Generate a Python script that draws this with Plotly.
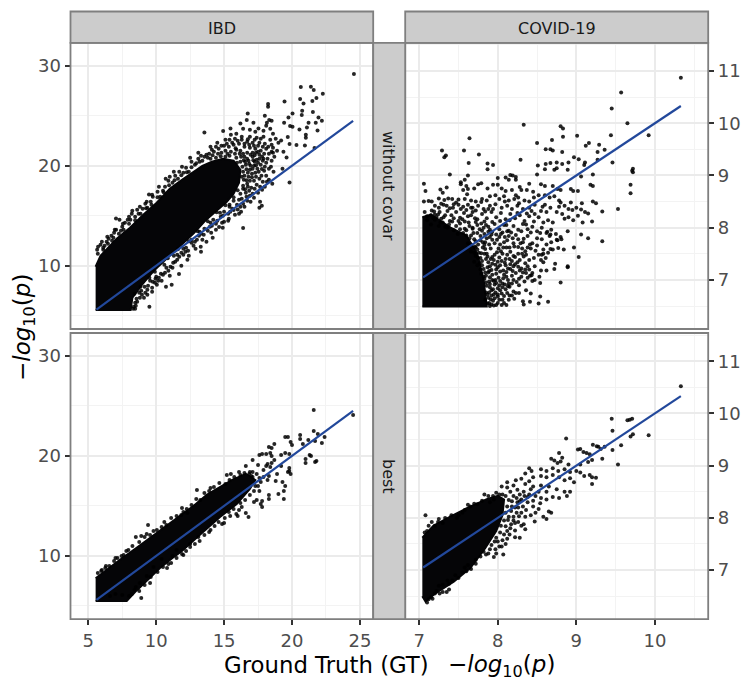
import plotly.graph_objects as go

# Values. Where points merge into solid black, single points
# cannot be read, so those areas are given as an outline of the saturated region.
line_ibd_x = [5.6, 24.5]
line_ibd_y = [5.6, 24.5]
line_cov_x = [7.05, 10.33]
line_cov_y = [7.05, 10.33]

tl_core = [(5.54,5.57),(8.12,5.57),(8.25,6.8),(8.9,8.0),(9.9,9.6),(10.9,10.9),(11.9,12.1),(12.8,13.3),(13.6,14.5),(14.5,15.6),(15.2,16.4),(15.7,17.2),(16.1,18.3),(16.2,19.6),(15.7,20.5),(14.9,20.7),(14.1,20.4),(13.4,20.0),(12.6,19.3),(11.9,18.6),(11.0,17.7),(10.04,16.3),(9.05,15.1),(8.07,13.8),(7.09,12.7),(5.9,11.0),(5.54,9.9)]
tl_points = [(24.56,29.17),(20.65,27.87),(21.39,27.9),(21.6,27.57),(22.27,27.2),(21.8,26.77),(21.5,26.47),(20.6,26.67),(20.85,26.23),(19.45,26.43),(18.24,26.17),(18.24,25.9),(16.74,25.23),(20.75,25.5),(21.54,25.37),(20.72,25.07),(20.04,25.23),(19.74,24.83),(21.95,24.83),(22.2,24.5),(21.75,24.3),(21.22,24.3),(21.1,23.83),(20.55,23.63),(21.88,23.53),(19.86,23.97),(19.42,24.3),(20.04,23.9),(18.32,24.57),(18.15,24.3),(18.5,24.5),(18.0,25.0),(13.55,23.33),(14.93,23.47),(15.47,23.73),(16.67,24.57),(16.2,24.23),(17.16,24.3),(17.53,23.73),(21.02,23.1),(21.02,22.8),(20.33,22.07),(20.95,22.03),(21.66,21.77),(19.82,22.17),(19.69,22.87),(19.2,22.53),(19.37,21.4),(19.6,20.83),(19.3,19.7),(18.64,19.4),(19.82,18.33),(17.78,19.67),(17.78,16.0),(17.65,16.4),(16.4,13.77),(15.7,15.57),(16.0,15.63),(14.16,12.8),(14.63,13.87),(9.5,5.9),(11.14,8.1),(10.72,7.9),(11.68,9.17),(9.91,8.3),(13.28,11.9),(7.04,14.73),(8.24,15.5),(9.47,17.13),(11.0,18.9),
(18.1,24.0),(18.4,23.7),(18.6,23.2),(17.9,23.5),(17.3,23.4),(16.9,23.6),(16.4,23.7),(15.9,23.2),(15.5,23.1),(15.4,22.6),(15.8,22.7),(16.3,22.9),(16.9,22.9),(17.4,22.8),(17.9,22.9),(18.4,22.6),(18.8,22.7),(19.0,22.3),(18.5,22.1),(18.0,22.2),(17.6,22.3),(17.1,22.3),(16.7,22.4),(16.1,22.2),(15.7,22.1),(15.2,22.2),(14.8,22.0),(14.4,21.9),(14.1,21.6),(13.7,21.1),(13.3,21.0),(13.1,20.7),(12.6,20.4),(12.2,19.8),(11.7,19.4),(18.9,21.5),(18.5,21.4),(18.1,21.7),(17.7,21.5),(17.3,21.7),(16.9,21.8),(16.5,21.9),(16.2,21.5),(15.9,21.6),(15.5,21.4),(15.1,21.5),(14.8,21.3),(18.7,20.9),(18.2,20.7),(17.8,20.9),(17.4,20.6),(17.1,20.9),(16.8,20.5),(16.5,20.9),(16.2,20.4),(15.9,20.8),(17.7,20.1),(17.2,20.0),(16.9,19.6),(16.6,20.1),(16.4,19.4),(17.3,19.3),(16.8,18.9),(18.1,19.0),(17.6,18.7),(17.2,18.5),(16.7,18.2),(16.4,18.0),(17.0,17.8),(16.2,17.2),(16.6,17.3),(16.9,17.0),(16.1,16.6),(15.7,16.5),(16.4,16.2),(15.4,15.9),(15.3,15.2),(14.9,15.0),(14.5,14.5),(14.1,14.0),(13.8,13.5),(13.3,13.2),(13.0,12.6),(12.6,12.3),(12.2,11.8),(12.0,11.1),(11.7,10.9),(11.4,10.4),(11.2,9.8),(10.9,9.5),(10.5,9.1),(10.2,8.8),(10.0,8.9),(9.7,7.8),(9.4,8.0),(9.2,7.3),(8.9,7.5),(8.8,6.8),(8.6,6.4),(8.5,6.0),(10.4,8.5),(11.0,9.0),(12.4,11.0),(12.9,11.7),(13.4,12.6),(7.3,14.6),(8.2,15.2),(8.8,15.9),(9.2,16.2),(9.6,16.4),(10.1,17.4),(10.5,17.5),(10.9,18.5),(11.4,19.0),(6.0,12.4),(6.2,12.0),(6.5,12.7),(6.9,13.3),(7.5,13.9),(7.7,14.3),(5.7,11.2),(6.7,13.0),
(5.72,11.9),(6.1,11.8),(6.35,12.4),(6.75,12.5),(7.05,13.6),(7.4,13.5),(7.9,14.6),(8.1,14.6),(8.45,14.9),(8.7,15.2),(9.0,15.7),(9.35,15.8),(9.75,16.9),(10.3,16.9),(10.65,17.9),(11.2,18.3),(11.6,18.7),(12.0,19.3),(12.4,19.4),(12.85,20.1),(13.2,20.4),(13.55,20.9),(13.9,21.2),(14.25,21.4),(14.6,21.7),(15.0,22.0),(15.35,21.9),(15.6,22.3),(16.0,22.5),(16.5,22.2),(16.85,22.1),(17.2,22.0),(17.5,22.0),(17.85,21.9),(18.25,21.9),(18.6,21.8),(18.3,21.2),(17.95,21.2),(17.6,21.1),(17.35,21.3),(18.5,20.5),(18.1,20.3),(17.85,20.5),(17.5,20.3),(18.3,19.7),(17.95,19.5),(17.55,19.4),(17.35,18.9),(17.85,18.4),(17.4,18.1),(17.25,17.7),(16.85,17.5),(16.65,16.9),(16.3,16.7),(16.7,16.5),(15.95,16.1),(16.2,15.9),(15.6,15.7),(15.45,15.4),(15.0,15.4),(14.75,14.9),(14.85,14.3),(14.4,14.2),(14.2,14.6),(13.95,13.9),(13.55,13.7),(13.5,13.1),(13.15,13.0),(12.85,12.4),(12.75,12.0),(12.35,11.5),(12.15,11.4),(11.85,11.3),(11.55,11.1),(11.55,10.6),(11.25,10.3),(11.05,9.9),(10.75,9.8),(10.65,9.3),(10.35,9.2),(10.15,8.5),(9.95,8.7),(9.75,8.4),(9.55,8.5),(9.35,7.6),(9.15,7.9),(8.95,7.1),(8.75,7.3),(8.55,6.7),(8.45,6.3),(8.35,5.9),(8.3,5.7),(8.45,5.7),(9.1,6.8),(9.35,7.1),(9.7,7.4),(10.05,8.1),(12.3,10.6),(11.85,10.0),(13.3,11.4),(13.7,12.4),(14.05,13.3),(14.4,13.6),(15.0,14.4),(15.35,14.7),(15.8,15.1),(16.25,15.4),(16.1,15.2),(16.5,15.9),(16.95,16.4),(17.2,16.8),(17.5,17.3),(17.1,17.2),(17.8,17.6),(18.0,17.9),(18.3,18.6),(18.55,18.2),(17.6,15.8),(15.3,14.5),(14.9,13.8),
(16.4,17.7),(16.75,17.9),(16.9,18.5),(16.45,18.6),(16.5,19.0),(16.75,19.3),(17.05,19.2),(17.45,19.7),(17.1,19.7),(16.35,19.9),(16.55,20.4),(16.85,20.2),(17.25,20.4),(15.95,20.3),(16.25,20.9),(16.7,21.3),(17.1,21.3),(16.4,21.2),(15.8,21.2),(15.4,21.0),(15.1,20.9),(14.75,20.95),(14.4,20.8),(14.0,20.7),(17.5,21.4),(17.9,20.7),(17.6,20.7),(18.0,19.9),(18.45,19.9),(18.15,18.4),(17.65,17.9),(17.75,19.0),(18.6,21.3),(16.3,22.6),(16.75,22.65),(17.25,22.6),(17.7,22.7),(15.1,22.6),(14.5,22.3),(14.0,21.9),(13.1,21.3),(12.5,20.8),(11.9,19.9),(11.3,19.4),(10.7,18.7),(10.2,17.9),(9.7,17.1),(9.3,16.4),(8.6,15.6),(8.0,14.9),(7.55,14.2),(6.95,13.6),(6.4,12.9),(5.9,12.1),(5.65,11.6),(9.9,9.4),(10.6,10.1),(11.3,11.0),(12.0,11.7),(12.6,12.6),(13.2,13.4),(14.0,14.3),(14.7,15.3),(15.4,16.1),(8.85,7.9),(9.5,8.8),(8.4,7.2),
(16.3,18.9),(16.65,19.65),(16.95,20.0),(16.7,20.7),(16.45,20.55),(16.15,21.2),(16.95,21.1),(17.25,21.05),(17.15,20.55),(17.35,20.05),(17.05,18.85),(16.65,18.55),(16.55,17.65),(15.85,21.75),(15.25,21.2),(14.55,21.2),(14.15,21.05),(13.8,20.8),(13.4,20.5),(12.95,20.25),(12.6,19.85),(12.25,19.35),(11.85,19.05),(11.35,18.55),(10.95,18.05),(10.55,17.35),(10.1,16.85),(9.65,16.1),(9.25,15.75),(8.85,15.2),(8.45,14.55),(8.0,14.2),(7.6,13.6),(7.25,13.2),(6.85,12.8),(6.45,12.2),(6.1,11.6),(15.7,16.85),(16.0,17.55),(15.1,16.05),(14.45,15.35),(13.8,14.45),(13.05,13.45),(12.4,12.45),(11.6,11.65),(10.85,10.75)]

tr_core = [(7.04,6.49),(7.86,6.49),(7.82,7.0),(7.74,7.5),(7.6,7.85),(7.4,8.0),(7.15,8.25),(7.04,8.2)]
tr_points = [(10.33,10.87),(9.57,10.59),(9.45,10.28),(9.65,10.0),(9.92,9.77),(9.44,9.77),(8.33,9.97),(8.80,9.94),(8.83,9.90),(8.83,9.74),(9.01,9.76),(8.69,9.68),(8.50,9.62),(9.16,9.62),(9.12,9.57),(9.29,9.59),(9.36,9.49),(9.27,9.45),(8.61,9.50),(8.67,9.50),(8.70,9.48),(8.82,9.45),(7.64,9.71),(7.57,9.48),(7.29,9.48),(7.34,9.38),(7.32,9.35),(7.76,9.40),(7.63,9.24),(7.87,9.23),(7.94,9.20),(7.87,9.12),(8.29,9.30),(8.97,9.35),(9.03,9.31),(8.90,9.25),(8.82,9.22),(8.75,9.25),(8.67,9.24),(8.61,9.22),(8.51,9.19),(8.72,9.11),(8.75,9.14),(8.60,9.12),(8.50,9.02),(8.89,9.11),(9.46,9.25),(9.27,9.30),(9.11,9.25),(9.10,9.20),(9.72,9.13),(9.72,9.06),(9.71,9.09),(9.21,9.02),(9.06,8.98),(9.69,8.82),(9.69,8.66),(9.53,8.36),(9.33,7.74),(9.15,7.80),(9.06,7.87),(9.03,7.44),(8.97,7.62),(8.80,6.95),(8.89,7.26),(8.64,6.58),
(7.39,9.02),(7.62,9.0),(7.58,8.92),(7.53,8.87),(7.06,8.84),(7.08,8.70),(7.27,8.73),(7.35,8.77),(7.30,8.67),(7.53,8.83),(7.60,8.80),(7.56,8.72),(7.62,8.74),(7.70,8.75),(7.75,8.83),(7.79,8.85),(7.87,8.75),(7.94,8.82),(8.0,8.95),(8.0,8.82),(8.10,8.96),(8.14,8.92),(8.16,9.01),(8.19,9.0),(8.23,8.97),(8.23,8.92),(8.05,8.75),(8.1,8.70),(8.18,8.72),(8.23,8.62),(8.30,8.72),(8.40,8.84),(8.28,8.78),(8.37,8.72),(8.45,8.69),(8.55,8.83),(8.60,8.80),(8.70,8.80),(8.76,8.74),(8.80,8.72),(8.93,8.74),(8.96,8.70),(9.02,8.70),(9.18,8.82),(9.21,8.80),
(7.06,8.50),(7.12,8.51),(7.16,8.50),(7.25,8.56),(7.32,8.53),(7.37,8.56),(7.42,8.55),(7.50,8.54),(7.58,8.55),(7.66,8.52),(7.72,8.50),(7.79,8.49),(7.86,8.52),(7.90,8.60),(7.97,8.62),(8.02,8.55),(8.08,8.60),(8.14,8.52),(8.21,8.55),(8.26,8.58),(8.34,8.52),(8.40,8.50),(8.46,8.58),(8.52,8.62),(8.60,8.62),(8.66,8.58),(8.72,8.60),(8.78,8.52),(8.80,8.48),(8.93,8.48),(9.07,8.47),(9.21,8.50),(9.25,8.47),(9.33,8.31),(8.78,8.40),(8.85,8.42),(8.90,8.36),(8.95,8.34),(9.0,8.38),(9.06,8.35),(9.11,8.30),(9.15,8.27),(9.20,8.12),(9.02,8.23),(8.90,8.20),(8.85,8.17),(8.96,8.14),(9.08,8.10),(8.82,8.26),(8.75,8.30),(8.67,8.38),(8.60,8.44),
(7.2,8.42),(7.28,8.46),(7.35,8.42),(7.43,8.38),(7.50,8.44),(7.56,8.40),(7.62,8.44),(7.68,8.38),(7.75,8.42),(7.82,8.36),(7.90,8.42),(7.97,8.45),(8.05,8.38),(8.12,8.42),(8.18,8.36),(8.25,8.42),(8.32,8.36),(8.40,8.38),(8.47,8.44),(8.55,8.32),(8.62,8.30),
(7.07,8.30),(7.10,8.22),(7.16,8.33),(7.20,8.25),(7.26,8.30),(7.31,8.20),(7.36,8.32),(7.41,8.24),(7.47,8.30),(7.52,8.19),(7.57,8.28),(7.62,8.22),(7.68,8.30),(7.74,8.16),(7.80,8.26),(7.86,8.18),(7.92,8.30),(7.98,8.20),(8.04,8.28),(8.10,8.16),(8.16,8.26),(8.22,8.18),(8.28,8.24),(8.34,8.13),(8.40,8.22),(8.46,8.12),(8.52,8.20),(8.58,8.10),(8.64,8.14),(8.70,8.10),
(7.10,8.14),(7.15,8.06),(7.20,8.15),(7.25,8.03),(7.30,8.10),(7.36,8.0),(7.42,8.12),(7.47,8.03),(7.52,8.08),(7.58,7.98),(7.63,8.10),(7.68,8.0),(7.74,8.05),(7.80,7.94),(7.85,8.05),(7.90,7.96),(7.96,8.07),(8.02,7.97),(8.08,8.05),(8.14,7.94),(8.20,8.03),(8.26,7.96),(8.32,8.07),(8.38,7.97),(8.44,8.02),(8.50,7.93),(8.56,8.0),(8.62,7.90),(8.68,7.96),(8.74,7.88),(8.80,7.82),(8.76,7.76),(8.66,7.84),
(7.60,7.95),(7.66,7.85),(7.72,7.74),(7.78,7.84),(7.84,7.72),(7.90,7.82),(7.96,7.70),(8.02,7.82),(8.08,7.72),(8.14,7.84),(8.20,7.70),(8.26,7.78),(8.32,7.72),(8.38,7.84),(8.44,7.70),(8.50,7.80),(8.56,7.78),(8.62,7.68),(8.68,7.72),
(7.66,7.54),(7.71,7.64),(7.76,7.52),(7.81,7.62),(7.86,7.50),(7.91,7.60),(7.96,7.48),(8.01,7.60),(8.06,7.50),(8.11,7.62),(8.16,7.54),(8.21,7.64),(8.26,7.50),(8.31,7.60),(8.36,7.48),(8.42,7.60),(8.48,7.56),(8.52,7.48),(8.58,7.58),(8.64,7.52),(8.70,7.58),(8.61,7.42),(8.55,7.38),
(7.75,7.42),(7.80,7.28),(7.85,7.40),(7.90,7.26),(7.95,7.38),(8.0,7.24),(8.05,7.36),(8.10,7.28),(8.15,7.40),(8.20,7.26),(8.25,7.34),(8.30,7.22),(8.35,7.32),(8.40,7.20),(8.47,7.26),(8.55,7.18),
(7.83,7.02),(7.88,7.14),(7.93,7.0),(7.98,7.12),(8.03,6.98),(8.08,7.10),(8.13,7.0),(8.18,7.08),(8.24,6.96),(8.30,7.06),(8.38,7.04),(8.44,6.98),
(7.85,6.76),(7.90,6.86),(7.95,6.72),(8.0,6.84),(8.05,6.74),(8.10,6.82),(8.15,6.70),(8.20,6.78),
(7.87,6.55),(7.94,6.60),(7.98,6.52),(8.02,6.62),(8.08,6.56),(7.9,6.5),(7.95,6.51),
(7.88,7.92),(7.83,8.12),(7.71,8.18),(7.64,8.03),(7.55,8.16),(7.44,8.18),(7.33,8.24),(7.22,8.2),(7.15,8.24),(7.77,7.97),(7.69,7.90),(7.62,7.70),(7.72,7.46),(7.79,7.51),(7.84,7.59),(7.89,7.68),(7.93,7.77),(7.98,7.87),(8.03,7.68),(7.99,7.53),(7.93,7.44),(7.88,7.34),(7.82,7.21),(7.79,7.12),(7.85,7.08),(7.92,7.19),(7.97,7.29),(8.02,7.43),(8.07,7.62),(8.12,7.76),(8.17,7.91),(8.11,8.05),(8.06,7.91),(8.03,7.16),(8.07,7.03),(7.89,6.97),(7.86,6.89),(7.96,6.91),(8.06,6.93),(8.11,7.15),(8.16,7.21),(8.22,7.44),(8.26,7.63),(8.33,7.79),(8.30,7.93),(8.36,8.06),(8.42,7.91),(8.41,7.68),(8.35,7.55),(8.28,7.38),(8.23,7.13),(8.15,6.87),(8.08,6.69),(8.0,6.68),(7.91,6.63),(8.18,6.93),(8.27,6.90),(8.34,6.97),(8.36,7.13),(8.44,7.13),(8.46,7.42),(8.50,7.66),(8.54,7.90),(8.47,8.26),(8.37,8.27),(8.25,8.28),(8.15,8.14),(8.03,8.13),(7.93,8.11),(7.94,8.36),(8.09,8.50),(8.27,8.47),(8.43,8.32),(8.57,8.40),(7.80,8.55),(7.61,8.64),(7.47,8.48),(7.31,8.44),(7.25,8.38),
(8.06,6.62),(8.14,6.62),(8.21,6.64),(8.23,6.75),(8.33,6.53),(8.32,6.59),(8.41,6.58),(8.52,6.55),(8.54,6.68),(8.36,6.8),(8.42,6.74),(8.27,6.75),(8.0,6.72),(8.13,6.88),(8.09,6.91),(8.06,6.86),(8.54,6.94),(8.47,7.0),(8.43,7.09),(8.53,7.06),(8.62,7.18),(8.72,7.21),(8.89,7.24),(8.58,7.34),(8.73,7.31),(8.56,7.48),(8.58,7.5),(8.67,7.59),(8.77,7.61),(8.84,7.58),(8.75,7.77),(8.81,7.78),(8.67,7.87),(8.63,7.92),(8.89,7.93),
(7.7,7.35),(7.74,7.28),(7.78,7.2),(7.82,7.06),(7.85,6.95),(7.87,6.72),(7.84,6.62),(7.88,6.66),(7.92,6.8),(7.93,7.1),(7.97,7.0),(7.91,7.4),(7.87,7.45),(7.83,7.5),(7.78,7.42),(7.74,7.58),(7.7,7.52),(7.66,7.68),(7.7,7.78),(7.64,7.8),(7.6,7.85),(7.56,7.9),(7.52,7.97),(7.49,7.88),(7.44,7.95),(7.38,8.06),(7.33,8.02),(7.27,8.1),(7.18,8.18),(7.75,7.68),(7.81,7.72),(7.86,7.8),(7.74,7.9),(7.83,7.88),(7.93,7.92),(7.99,7.77),(8.04,7.88),(8.09,7.82),(8.0,7.35),(8.12,7.48),(8.18,7.36),(8.1,7.4),(8.03,7.28),(8.13,7.22),(8.19,7.17),(8.28,7.18),(8.33,7.45),(8.4,7.38),(8.38,7.26),(8.32,7.14),(8.27,7.02),(8.11,7.06),(8.01,7.04),(7.95,6.98),(7.9,7.05),(8.03,6.8),(8.12,6.75),(8.18,6.7),(7.96,6.65),(8.05,6.52),(8.0,6.56),(8.11,6.52),(7.89,6.56),(7.92,6.53),
(7.68,7.98),(7.72,8.11),(7.58,8.12),(7.5,8.13),(7.39,8.13),(7.28,8.17),(7.24,8.25),(7.19,8.31),(7.66,8.24),(7.79,8.08),(7.82,8.0),(7.88,8.02),(7.92,7.87),(7.78,7.76),(7.83,7.67),(7.72,7.62),(7.8,7.36),(7.77,7.32),(7.87,7.24),(7.93,7.31),(7.98,7.2),(7.89,7.17),(7.84,7.14),(7.9,6.92),(7.94,6.82),(7.98,6.94),(7.89,6.76),(7.92,6.7),(7.97,6.76),(8.02,6.9),(8.07,7.18),(8.16,7.3),(8.09,7.33),(8.2,7.46),(8.15,7.62),(8.04,7.55),(8.12,7.93),(8.23,7.86),(8.19,7.8),(8.29,7.7),(8.38,7.62),(8.31,7.5),(8.26,7.25),(8.22,7.3),(8.35,7.2),(8.41,7.08),(8.14,6.93),(8.2,7.0),(7.6,8.34),(7.53,8.36),(7.39,8.37),(7.44,8.45),(7.66,8.38),(7.72,8.33),(7.84,8.31),(7.88,8.36)]

bl_core = [(5.54,5.5),(7.83,5.5),(8.6,6.6),(9.4,7.6),(10.28,8.8),(11.2,9.8),(11.9,10.5),(13.2,12.1),(14.7,13.9),(15.93,15.2),(16.9,16.7),(17.3,17.6),(16.6,18.2),(15.6,17.6),(14.7,16.9),(13.72,16.1),(12.74,15.0),(11.27,13.5),(9.79,12.0),(8.56,10.8),(7.33,9.6),(6.1,8.4),(5.54,7.77)]
bl_points = [(24.5,24.1),(21.6,24.6),(21.6,22.5),(21.9,22.2),(22.4,21.9),(22.2,21.3),(21.7,21.5),(21.2,21.6),(20.6,22.1),(19.7,21.9),(19.5,21.9),(20.0,21.1),(19.9,21.4),(20.6,21.7),(20.8,21.2),(21.3,20.1),(21.4,20.0),(21.0,19.7),(21.0,19.3),(21.7,19.4),(21.8,19.5),(19.8,18.8),(19.9,18.2),(19.7,18.4),(19.2,19.0),(19.8,18.5),(18.9,18.2),(18.4,18.9),(18.1,19.0),(18.2,19.2),(18.5,19.3),(18.7,19.6),(19.2,20.1),(19.5,20.3),(19.8,20.2),(18.5,20.0),(18.4,20.3),(18.1,20.2),(18.5,20.8),(18.3,20.9),(18.7,21.2),(17.6,20.1),(17.8,20.2),(17.1,19.6),(16.6,19.0),(15.1,17.2),(15.2,18.1),(15.5,18.2),(13.0,16.6),(14.0,16.8),(11.9,14.8),(12.0,14.4),(12.3,14.3),(9.4,13.1),(9.8,12.5),(8.9,12.0),(8.5,11.9),(7.8,10.5),(7.6,10.1),(6.3,9.0),(6.0,8.6),(8.9,5.8),(8.4,6.6),(8.0,6.0),(9.3,8.0),(9.8,8.9),(10.4,9.7),(11.2,10.0),(11.5,10.6),(12.5,11.2),(13.1,11.9),(14.0,12.6),(15.0,13.3),(16.0,14.0),(15.9,14.2),(16.3,14.9),(16.6,14.3),(16.8,13.9),(17.2,15.4),(17.4,15.6),(17.7,15.2),(17.8,14.9),(17.8,15.5),(18.3,16.1),(18.3,15.7),(19.0,16.2),(19.4,16.5),(19.4,15.7),(19.5,17.0),(19.3,17.4),(18.8,17.5),(18.2,17.6),(17.6,16.5),(17.3,17.0),(17.9,17.9),(18.3,18.0),(17.4,18.2),(17.9,18.6),(17.5,19.1),(17.1,18.4),(16.9,18.4),(16.5,18.3),(16.2,18.1),
(5.7,8.3),(5.95,8.5),(6.25,8.8),(6.55,9.0),(6.9,9.5),(7.15,9.8),(7.45,10.0),(7.95,10.6),(8.25,11.0),(8.75,11.4),(9.15,11.9),(9.55,12.1),(10.05,12.6),(10.4,12.9),(10.75,13.1),(11.1,13.8),(11.5,14.0),(11.85,14.1),(12.25,14.7),(12.6,15.1),(12.95,15.7),(13.25,15.6),(13.55,16.3),(13.9,16.5),(14.25,16.9),(14.65,17.3),(15.4,17.6),(15.75,17.9),(16.1,18.4),(16.85,18.2),(7.0,9.8),(9.3,12.2),(10.6,13.4),(6.6,6.0),(7.0,6.2),(7.5,6.1),(8.2,6.2),(8.5,6.9),(8.8,7.3),(8.75,6.5),(9.15,7.1),(9.55,7.3),(9.6,7.9),(10.1,8.4),(10.5,8.9),(10.8,8.8),(11.1,9.3),(11.5,9.8),(11.9,10.2),(12.2,10.5),(12.5,10.9),(12.85,11.2),(13.2,11.5),(13.55,12.1),(13.9,12.4),(14.3,13.0),(14.6,13.4),(15.05,13.8),(15.35,14.4),(15.7,14.7),(16.2,15.3),(16.55,15.6),(16.9,16.1),(17.2,16.5),(17.5,17.0),(17.7,17.4),(16.1,14.6),(15.45,14.0),(14.85,13.2),(12.0,10.1),(10.9,9.2),(17.1,17.9),(17.6,17.8),(17.0,18.0)]

br_core = [(7.04,7.62),(7.18,7.85),(7.39,8.02),(7.6,8.18),(7.86,8.36),(8.0,8.42),(8.08,8.35),(8.06,8.05),(7.98,7.75),(7.84,7.42),(7.65,7.04),(7.44,6.78),(7.2,6.55),(7.08,6.4),(7.04,6.5)]
br_points = [(10.33,10.52),(9.45,9.9),(9.65,9.87),(9.68,9.88),(9.71,9.9),(9.46,9.67),(9.72,9.6),(9.69,9.56),(9.92,9.58),(9.57,9.39),(9.46,9.3),(9.33,9.13),(9.53,9.02),(8.87,9.52),(9.02,9.31),(9.05,9.32),(9.09,9.26),(9.13,9.24),(9.17,9.22),(9.21,9.4),(9.26,9.37),(9.28,9.36),(9.31,9.32),(9.36,9.36),(8.78,9.24),(8.68,9.13),(8.82,9.15),(8.72,9.1),(8.76,9.05),(8.8,9.08),(8.9,9.02),(9.05,9.02),(9.15,9.07),(9.2,9.11),(9.0,8.9),(9.05,8.87),(9.1,8.8),(9.17,8.82),(9.2,8.78),(9.25,8.77),(9.2,8.65),(8.4,8.95),(8.43,8.9),(8.35,8.85),(8.55,8.93),(8.62,8.9),(8.7,8.95),(8.77,8.9),(8.85,8.93),(8.92,8.88),(8.55,8.8),(8.62,8.78),(8.7,8.82),(8.78,8.78),(8.85,8.72),(8.92,8.76),(8.97,8.68),(8.45,8.78),(8.4,8.7),(8.3,8.75),(8.12,8.68),(8.23,8.72),(8.35,8.65),(8.45,8.6),(8.55,8.62),(8.65,8.6),(8.75,8.55),(8.85,8.5),(8.92,8.5),(8.88,8.42),(8.78,8.38),(8.7,8.4),(8.62,8.35),(8.55,8.38),(8.48,8.42),(8.4,8.45),(8.33,8.5),(8.3,8.35),(8.38,8.3),(8.45,8.22),(8.52,8.17),(8.65,8.12),(8.68,8.1),(8.58,8.02),(8.62,7.98),(8.47,7.93),(8.42,8.05),(8.33,7.88),(8.35,7.78),(8.3,8.1),(8.22,8.2),(8.2,8.02),(8.13,7.96),(8.28,7.62),(8.22,7.63),(8.12,7.6),(8.06,7.57),(8.07,7.3),(8.0,7.55),(7.97,7.4),(7.82,7.35),(7.95,7.25),(7.72,7.2),(7.66,7.02),(7.58,7.05),(7.6,6.98),(7.5,6.85),(7.42,6.8),(7.38,6.63),(7.35,6.58),(7.3,6.58),(7.38,6.74),(7.25,6.7),(7.2,6.55),(7.08,8.05),(7.25,7.98),(7.3,7.9),(7.1,7.75),(7.2,7.85),(7.48,8.0),(7.55,8.1),(7.65,8.22),(7.7,8.27),(7.5,8.05),(7.8,8.33),(7.83,8.45),(7.88,8.42),(7.95,8.35),(8.05,8.6),(8.12,8.58),(8.2,8.62),(7.98,8.48),
(7.07,7.72),(7.12,7.85),(7.16,7.92),(7.24,7.92),(7.33,8.0),(7.41,8.05),(7.58,8.15),(7.62,8.25),(7.74,8.26),(7.9,8.3),(8.02,8.45),(8.16,8.5),(8.25,8.54),(8.28,8.45),(8.25,8.3),(8.32,8.22),(8.24,8.1),(8.17,7.88),(8.26,7.92),(8.22,7.76),(8.12,7.75),(8.15,7.68),(8.08,7.68),(7.98,7.62),(8.02,7.45),(7.92,7.48),(7.85,7.3),(7.78,7.26),(7.72,7.12),(7.62,7.1),(7.55,6.96),(7.46,6.9),(7.36,6.8),(7.3,6.72),(7.22,6.6),(7.15,6.48),(7.1,6.38),(7.17,6.45),(7.26,6.55),(7.12,6.44),(8.42,8.55),(8.52,8.5),(8.62,8.5),(8.38,8.4),(8.45,8.33),(8.54,8.28),(8.36,8.15),(8.27,8.03),(8.18,8.32),(8.35,8.02),(8.48,8.1),
(8.1,8.42),(8.14,8.34),(8.2,8.42),(8.12,8.22),(8.17,8.13),(8.1,8.1),(8.14,8.02),(8.08,7.95),(8.04,7.85),(8.1,7.84),(8.03,7.72),(7.96,7.55),(7.9,7.4),(7.88,7.32),(8.18,8.22),(8.26,8.2),(8.06,8.45),(7.94,8.42),(8.28,8.32),(8.34,8.42),(8.2,7.95),(8.16,7.8),(8.05,7.45),(7.98,7.32),(8.1,7.5),(8.22,7.9),(8.3,7.85),(8.24,8.38)]

FONT = "DejaVu Sans"
W, H = 745, 677
PX = lambda v: v / W
PY = lambda v: 1 - v / H
X_DOM = [(70.5, 373.2), (405.2, 708.2)]
Y_DOM = [(42.8, 329.0), (333.0, 619.2)]
RANGES_X = [[3.69, 25.98], [6.822, 10.678]]
RANGES_Y = [[3.67, 32.3], [6.06, 11.54]]

fig = go.Figure()
panels = [
    (0, 0, tl_core, tl_points, line_ibd_x, line_ibd_y, "x", "y"),
    (1, 0, tr_core, tr_points, line_cov_x, line_cov_y, "x2", "y2"),
    (0, 1, bl_core, bl_points, line_ibd_x, line_ibd_y, "x3", "y3"),
    (1, 1, br_core, br_points, line_cov_x, line_cov_y, "x4", "y4"),
]
for col, row, core, pts, lx, ly, xa, ya in panels:
    fig.add_trace(go.Scatter(x=[p[0] for p in core], y=[p[1] for p in core], mode="lines",
                             fill="toself", fillcolor="#050507", line=dict(color="#050507", width=2),
                             xaxis=xa, yaxis=ya, showlegend=False, hoverinfo="skip"))
    fig.add_trace(go.Scatter(x=[p[0] for p in pts], y=[p[1] for p in pts], mode="markers",
                             marker=dict(color="rgba(0,0,0,0.85)", size=4, line=dict(width=0)),
                             xaxis=xa, yaxis=ya, showlegend=False))
    fig.add_trace(go.Scatter(x=lx, y=ly, mode="lines", line=dict(color="#22489b", width=2.2),
                             xaxis=xa, yaxis=ya, showlegend=False))

names = ["", "2", "3", "4"]
for i, (col, row, *_rest) in enumerate(panels):
    n = names[i]
    xdt, xm = (5, 2.5) if col == 0 else (1, 0.5)
    ydt, ym = (10, 5) if col == 0 else (1, 0.5)
    common = dict(showline=False, zeroline=False, gridcolor="#ebebeb", gridwidth=1.8,
                  tickfont=dict(family=FONT, size=18, color="#4d4d4d"),
                  tickcolor="#333333", tickwidth=1.5, ticklen=5)
    fig.update_layout(**{
        "xaxis" + n: dict(common, domain=[PX(X_DOM[col][0]), PX(X_DOM[col][1])], range=RANGES_X[col],
                          dtick=xdt, tick0=0, anchor="y" + n,
                          showticklabels=row == 1, ticks="outside" if row == 1 else "",
                          minor=dict(dtick=xm, tick0=0, showgrid=True, gridcolor="#f3f3f3", gridwidth=1, ticks="")),
        "yaxis" + n: dict(common, domain=[PY(Y_DOM[row][1]), PY(Y_DOM[row][0])], range=RANGES_Y[col],
                          dtick=ydt, tick0=0, anchor="x" + n, side="left" if col == 0 else "right",
                          ticks="outside",
                          minor=dict(dtick=ym, tick0=0, showgrid=True, gridcolor="#f3f3f3", gridwidth=1, ticks="")),
    })

STRIP = "#cccccc"
EDGE = "#7f7f7f"
shapes = []
def box(x0, y0, x1, y1, fill=None):
    shapes.append(dict(type="rect", xref="paper", yref="paper", x0=PX(x0), x1=PX(x1),
                       y0=PY(y1), y1=PY(y0), fillcolor=fill or "rgba(0,0,0,0)",
                       line=dict(color=EDGE, width=1.8), layer="above"))
for c in range(2):
    box(X_DOM[c][0], 11.5, X_DOM[c][1], Y_DOM[0][0], STRIP)
    for r in range(2):
        box(X_DOM[c][0], Y_DOM[r][0], X_DOM[c][1], Y_DOM[r][1])
for r in range(2):
    box(X_DOM[0][1], Y_DOM[r][0], X_DOM[1][0], Y_DOM[r][1], STRIP)

def note(text, x, y, size, color, angle=0):
    return dict(text=text, x=PX(x), y=PY(y), xref="paper", yref="paper", showarrow=False,
                textangle=angle, xanchor="center", yanchor="middle",
                font=dict(family=FONT, size=size, color=color))
MATH = "<i>\u2212log</i><sub>10</sub>(<i>p</i>)"
annotations = [
    note("IBD", 222, 28, 16, "#1a1a1a"),
    note("COVID-19", 556.5, 28, 16, "#1a1a1a"),
    note("without covar", 389, 186, 16, "#1a1a1a", 90),
    note("best", 389, 476, 16, "#1a1a1a", 90),
    note("Ground Truth (GT)", 326, 665, 22.8, "#000000"),
    note(MATH, 501.5, 665.5, 23, "#000000"),
    note(MATH, 24, 328, 23, "#000000", -90),
]
fig.update_layout(width=W, height=H, margin=dict(l=0, r=0, t=0, b=0), autosize=False,
                  paper_bgcolor="white", plot_bgcolor="white", shapes=shapes,
                  annotations=annotations, showlegend=False)
fig.write_html("out.html", config=dict(displayModeBar=False),
               post_script="document.body.style.margin='0';document.body.style.overflow='hidden';")
